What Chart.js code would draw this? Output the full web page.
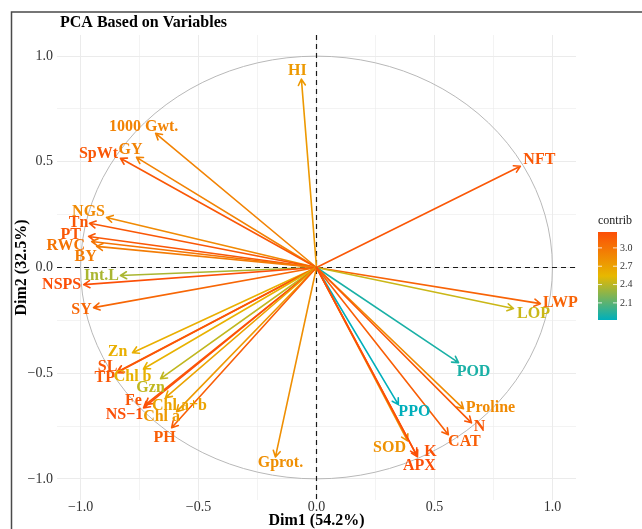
<!DOCTYPE html>
<html>
<head>
<meta charset="utf-8">
<script src="https://cdn.jsdelivr.net/npm/chart.js@4.4.0/dist/chart.umd.min.js"></script>
<style>
  html, body { margin: 0; padding: 0; background: #fff; }
  canvas { display: block; }
</style>
</head>
<body>
<canvas id="pca-var-chart" width="642" height="529"></canvas>
<script>
// variable coordinates on the first two principal components
var variables = ['HI', '1000 Gwt.', 'GY', 'SpWt', 'NGS', 'Tn', 'PT', 'RWC', 'BY', 'Int.L',
  'NSPS', 'SY', 'Zn', 'SL', 'TP', 'Chl b', 'Gzn', 'Fe', 'NS\u22121', 'Chl a+b', 'Chl a', 'PH',
  'Gprot.', 'NFT', 'LWP', 'LOP', 'POD', 'PPO', 'Proline', 'N', 'CAT', 'SOD', 'K', 'APX'];
var dim1 = [-0.064, -0.682, -0.763, -0.831, -0.890, -0.962, -0.966, -0.953, -0.932, -0.831,
  -0.987, -0.945, -0.780, -0.843, -0.847, -0.733, -0.661, -0.725, -0.733, -0.640, -0.593, -0.614,
  -0.174, 0.864, 0.949, 0.835, 0.602, 0.347, 0.623, 0.657, 0.559, 0.386, 0.424, 0.428];
var dim2 = [0.891, 0.635, 0.521, 0.517, 0.237, 0.209, 0.147, 0.123, 0.100, -0.038,
  -0.081, -0.190, -0.403, -0.493, -0.498, -0.479, -0.526, -0.649, -0.664, -0.616, -0.682, -0.758,
  -0.896, 0.479, -0.171, -0.194, -0.450, -0.649, -0.668, -0.735, -0.791, -0.820, -0.886, -0.896];
var contrib = [2.75, 2.90, 2.90, 3.20, 2.85, 3.20, 3.20, 3.00, 2.95, 2.35,
  3.25, 3.10, 2.60, 3.20, 3.20, 2.58, 2.42, 3.20, 3.25, 2.68, 2.75, 3.15,
  2.82, 3.20, 3.12, 2.45, 1.90, 1.82, 2.85, 3.20, 3.15, 2.80, 3.24, 3.26];

var axisTicks = [-1, -0.5, 0, 0.5, 1];
var gridTicks = [-1, -0.75, -0.5, -0.25, 0, 0.25, 0.5, 0.75, 1];
var contribTicks = [2.1, 2.4, 2.7, 3.0];

// label offsets from the arrow tip, in pixels
var labelNudge = {
  'HI': [-4, -8], '1000 Gwt.': [-12, -6], 'GY': [-6, -8], 'SpWt': [-22, -4], 'NGS': [-18, -6],
  'Tn': [-11, 0], 'PT': [-18, -2], 'RWC': [-26, 4], 'BY': [-11, 10], 'Int.L': [-19, 0],
  'NSPS': [-22, 0], 'SY': [-12, 2], 'Zn': [-15, -1], 'SL': [-10, -5], 'TP': [-12, 5],
  'Chl b': [-11, 8], 'Gzn': [-10, 9], 'Fe': [-12, -4], 'NS\u22121': [-19, 7], 'Chl a+b': [14, 8],
  'Chl a': [-15, 5], 'PH': [-7, 10], 'Gprot.': [5, 6], 'NFT': [19, -6], 'LWP': [20, -1],
  'LOP': [20, 5], 'POD': [15, 9], 'PPO': [16, 7], 'Proline': [27, -1], 'N': [8, 4],
  'CAT': [16, 7], 'SOD': [-18, 7], 'K': [14, -3], 'APX': [2, 9]
};

var gradientColors = ['#00AFBB', '#E7B800', '#FC4E07'];
var contribMin = Math.min.apply(null, contrib);
var contribMax = Math.max.apply(null, contrib);

function hexToRgb(h) {
  return [parseInt(h.substr(1, 2), 16), parseInt(h.substr(3, 2), 16), parseInt(h.substr(5, 2), 16)];
}

function contribColor(v) {
  var t = (v - contribMin) / (contribMax - contribMin);
  var a, b, f;
  if (t < 0.5) { a = hexToRgb(gradientColors[0]); b = hexToRgb(gradientColors[1]); f = t * 2; }
  else { a = hexToRgb(gradientColors[1]); b = hexToRgb(gradientColors[2]); f = (t - 0.5) * 2; }
  var c = a.map(function(x, i) { return Math.round(x + (b[i] - x) * f); });
  return 'rgb(' + c.join(',') + ')';
}

function fmt(v) {
  var s = Math.abs(v).toFixed(1);
  return v < -1e-9 ? '\u2212' + s : s;
}

// correlation circle
var circle = [];
for (var i = 0; i <= 100; i++) {
  var a = i / 100 * 2 * Math.PI;
  circle.push({ x: Math.cos(a), y: Math.sin(a) });
}

var points = variables.map(function(name, i) {
  return { x: dim1[i], y: dim2[i] };
});

var serif = '"Liberation Serif", "DejaVu Serif", serif';

var pcaPlugin = {
  id: 'pcaArrows',
  afterDatasetsDraw: function(chart) {
    var ctx = chart.ctx;
    var xs = chart.scales.x, ys = chart.scales.y;
    var area = chart.chartArea;
    var x0 = xs.getPixelForValue(0), y0 = ys.getPixelForValue(0);

    // dashed reference lines
    ctx.save();
    ctx.strokeStyle = '#1a1a1a';
    ctx.lineWidth = 1.2;
    ctx.setLineDash([5, 4]);
    ctx.beginPath();
    ctx.moveTo(area.left, y0); ctx.lineTo(area.right, y0);
    ctx.moveTo(x0, area.top); ctx.lineTo(x0, area.bottom);
    ctx.stroke();
    ctx.restore();

    // arrows
    ctx.save();
    ctx.lineWidth = 1.6;
    ctx.lineCap = 'round';
    ctx.lineJoin = 'round';
    points.forEach(function(p, i) {
      var px = xs.getPixelForValue(p.x), py = ys.getPixelForValue(p.y);
      var ang = Math.atan2(py - y0, px - x0);
      var len = 7, spread = Math.PI / 6;
      ctx.strokeStyle = contribColor(contrib[i]);
      ctx.beginPath();
      ctx.moveTo(x0, y0); ctx.lineTo(px, py);
      ctx.moveTo(px - len * Math.cos(ang - spread), py - len * Math.sin(ang - spread));
      ctx.lineTo(px, py);
      ctx.lineTo(px - len * Math.cos(ang + spread), py - len * Math.sin(ang + spread));
      ctx.stroke();
    });

    // variable labels
    ctx.font = 'bold 16px ' + serif;
    ctx.textAlign = 'center';
    ctx.textBaseline = 'middle';
    points.forEach(function(p, i) {
      var nudge = labelNudge[variables[i]] || [0, -8];
      ctx.fillStyle = contribColor(contrib[i]);
      ctx.fillText(variables[i], xs.getPixelForValue(p.x) + nudge[0], ys.getPixelForValue(p.y) + nudge[1]);
    });
    ctx.restore();
  },
  afterDraw: function(chart) {
    var ctx = chart.ctx;
    ctx.save();

    // outer frame
    ctx.strokeStyle = '#4a4a4a';
    ctx.lineWidth = 1.5;
    ctx.strokeRect(11.5, 12, 700, 600);

    // title
    ctx.fillStyle = '#000';
    ctx.font = 'bold 16px ' + serif;
    ctx.textAlign = 'left';
    ctx.textBaseline = 'middle';
    ctx.fillText('PCA Based on Variables', 60, 23);

    // colour bar legend
    var bx = 598, bw = 19, top = 232, bottom = 320;
    var grad = ctx.createLinearGradient(0, bottom, 0, top);
    grad.addColorStop(0, gradientColors[0]);
    grad.addColorStop(0.5, gradientColors[1]);
    grad.addColorStop(1, gradientColors[2]);
    ctx.fillStyle = grad;
    ctx.fillRect(bx, top, bw, bottom - top);

    ctx.fillStyle = '#1a1a1a';
    ctx.font = '12px ' + serif;
    ctx.fillText('contrib', bx, 221);

    ctx.font = '10px ' + serif;
    ctx.strokeStyle = 'rgba(255,255,255,0.8)';
    ctx.lineWidth = 1;
    contribTicks.forEach(function(v) {
      var y = bottom - (v - contribMin) / (contribMax - contribMin) * (bottom - top);
      ctx.beginPath();
      ctx.moveTo(bx, y); ctx.lineTo(bx + 4, y);
      ctx.moveTo(bx + bw - 4, y); ctx.lineTo(bx + bw, y);
      ctx.stroke();
      ctx.fillStyle = '#333';
      ctx.fillText(v.toFixed(1), bx + bw + 3, y);
    });

    ctx.restore();
  }
};

function gridWidth(c) {
  return axisTicks.indexOf(c.tick && c.tick.value) >= 0 ? 1 : 0.6;
}

new Chart(document.getElementById('pca-var-chart').getContext('2d'), {
  type: 'scatter',
  data: {
    datasets: [{
      label: 'circle',
      data: circle,
      showLine: true,
      borderColor: '#b8b8b8',
      borderWidth: 1,
      pointRadius: 0,
      tension: 0
    }, {
      label: 'variables',
      data: points,
      pointRadius: 0,
      showLine: false
    }]
  },
  options: {
    responsive: false,
    animation: false,
    devicePixelRatio: 1,
    layout: { padding: { left: 0, top: 35, right: 66, bottom: 0 } },
    plugins: {
      legend: { display: false },
      tooltip: { enabled: false }
    },
    scales: {
      x: {
        type: 'linear',
        min: -1.1,
        max: 1.1,
        afterBuildTicks: function(scale) {
          scale.ticks = gridTicks.map(function(v) { return { value: v }; });
        },
        afterFit: function(scale) { scale.height = 29; },
        border: { display: false },
        grid: { color: '#ebebeb', lineWidth: gridWidth, drawTicks: false },
        ticks: {
          padding: 0,
          color: '#333',
          font: { family: serif, size: 14, lineHeight: 1 },
          maxRotation: 0,
          autoSkip: false,
          callback: function(v) { return axisTicks.indexOf(v) >= 0 ? fmt(v) : ''; }
        },
        title: {
          display: true,
          text: 'Dim1 (54.2%)',
          color: '#000',
          font: { family: serif, size: 16, weight: 'bold', lineHeight: 1 },
          padding: { top: 0, bottom: 0 }
        }
      },
      y: {
        type: 'linear',
        min: -1.1,
        max: 1.1,
        afterBuildTicks: function(scale) {
          scale.ticks = gridTicks.map(function(v) { return { value: v }; });
        },
        afterFit: function(scale) { scale.width = 57; },
        border: { display: false },
        grid: { color: '#ebebeb', lineWidth: gridWidth, drawTicks: false },
        ticks: {
          padding: 4,
          color: '#333',
          font: { family: serif, size: 14 },
          autoSkip: false,
          callback: function(v) { return axisTicks.indexOf(v) >= 0 ? fmt(v) : ''; }
        },
        title: {
          display: true,
          text: 'Dim2 (32.5%)',
          color: '#000',
          font: { family: serif, size: 16, weight: 'bold', lineHeight: 1 },
          padding: { top: 14, bottom: 0 }
        }
      }
    }
  },
  plugins: [pcaPlugin]
});
</script>
</body>
</html>
